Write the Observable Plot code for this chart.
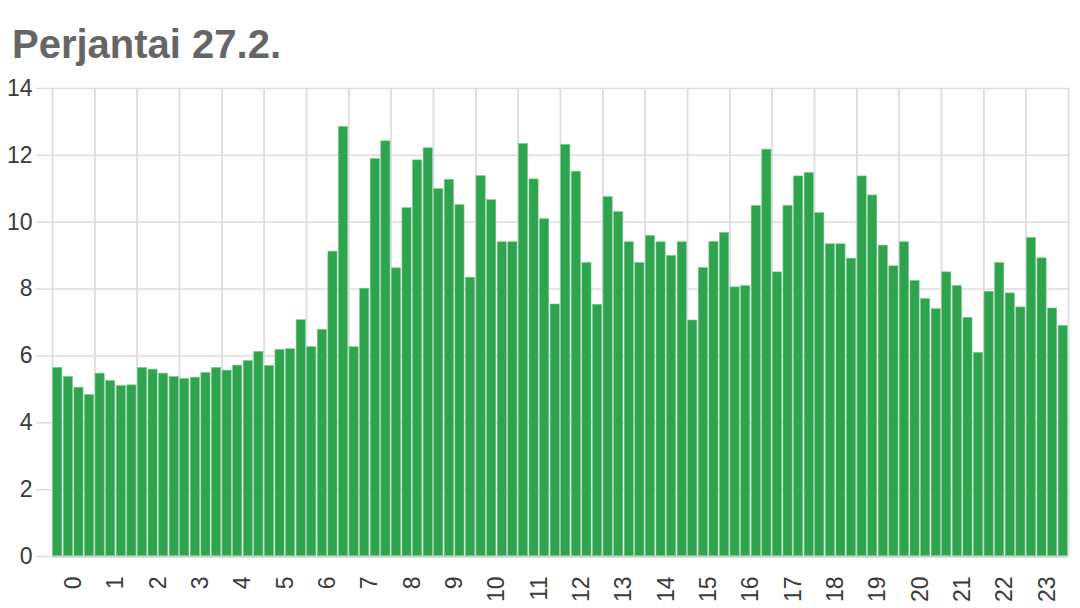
<!DOCTYPE html>
<html>
<head>
<meta charset="utf-8">
<script src="https://cdn.jsdelivr.net/npm/d3@7"></script>
<script src="https://cdn.jsdelivr.net/npm/@observablehq/plot@0.6"></script>
<style>
  html, body { margin: 0; padding: 0; background: #fff; }
  body { width: 1080px; height: 608px; overflow: hidden; font-family: "Liberation Sans", Arial, sans-serif; }
  #title { height: 60px; box-sizing: border-box; padding: 20px 0 0 12px; font-size: 40px; font-weight: bold; color: #666; line-height: 48px; }
  #chart svg { overflow: visible; }
</style>
</head>
<body>
<div id="title">Perjantai 27.2.</div>
<div id="chart"></div>
<script>
const hours = d3.range(0, 24);
const hourLabels = hours.map(String);
const yTicks = [0, 2, 4, 6, 8, 10, 12, 14];
// 15-minute values, 4 per hour, 00:00 .. 23:45
const values = [
  5.64, 5.37, 5.05, 4.83,
  5.47, 5.25, 5.10, 5.12,
  5.64, 5.59, 5.47, 5.37,
  5.31, 5.35, 5.49, 5.64,
  5.56, 5.71, 5.85, 6.12,
  5.70, 6.18, 6.20, 7.07,
  6.26, 6.78, 9.12, 12.85,
  6.26, 8.01, 11.89, 12.42,
  8.62, 10.42, 11.85, 12.21,
  10.99, 11.27, 10.51, 8.34,
  11.38, 10.66, 9.40, 9.40,
  12.34, 11.28, 10.09, 7.54,
  12.31, 11.51, 8.78, 7.53,
  10.75, 10.30, 9.40, 8.78,
  9.59, 9.40, 8.99, 9.40,
  7.06, 8.63, 9.41, 9.68,
  8.05, 8.09, 10.49, 12.17,
  8.50, 10.49, 11.37, 11.47,
  10.27, 9.34, 9.34, 8.91,
  11.37, 10.80, 9.30, 8.68,
  9.40, 8.24, 7.70, 7.40,
  8.50, 8.09, 7.14, 6.09,
  7.92, 8.78, 7.87, 7.45,
  9.53, 8.92, 7.42, 6.90
];

const data = values.map((v, i) => ({t: i / 4, v}));
const labelData = hours.map((h, i) => ({x: h + 0.5, label: hourLabels[i]}));

const chart = Plot.plot({
  width: 1080,
  height: 548,
  marginTop: 28,
  marginBottom: 52,
  marginLeft: 52,
  marginRight: 12,
  style: {fontFamily: "Liberation Sans, Arial, sans-serif", fontSize: "23px", color: "#3a3a3a", background: "#fff"},
  x: {type: "linear", domain: [0, 24], axis: null},
  y: {domain: [0, 14], axis: null},
  marks: [
    Plot.gridY(yTicks, {stroke: "#ddd", strokeOpacity: 1, strokeWidth: 1.5}),
    Plot.axisY(yTicks, {tickSize: 16, tickPadding: 4, stroke: "#ddd", strokeOpacity: 1, strokeWidth: 1.5, fill: "#3a3a3a", fontSize: 23, label: null}),
    Plot.gridX(d3.range(0, 25), {stroke: "#ddd", strokeOpacity: 1, strokeWidth: 1.5}),
    Plot.tickX(d3.range(0, 25), {y1: 0, y2: -0.48, stroke: "#ddd", strokeWidth: 1.5}),
    Plot.rectY(data, {x1: "t", x2: d => d.t + 0.25, y: "v", fill: "#2ea44f", stroke: "#7cc58c", strokeWidth: 0.6, insetLeft: 0.7, insetRight: 0.7}),
    Plot.ruleY([0], {stroke: "#ccc", strokeWidth: 2}),
    Plot.text(labelData, {x: "x", y: 0, text: "label", rotate: -90, textAnchor: "end", dy: 20, fill: "#3a3a3a", fontSize: 23})
  ]
});
document.getElementById("chart").appendChild(chart);
</script>
</body>
</html>
